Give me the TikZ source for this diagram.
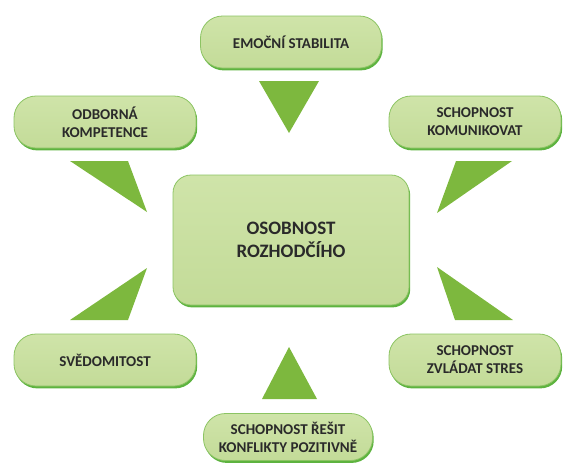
\documentclass[tikz,border=0pt]{standalone}
\usepackage{fontspec}
\setmainfont{Carlito}
\usepackage{xcolor}
\definecolor{BoxFill}{HTML}{C3DB98}
\definecolor{BoxLight}{HTML}{CFE4A9}
\definecolor{BoxLine}{HTML}{8CC463}
\definecolor{BoxShadow}{HTML}{5DB33F}
\definecolor{ArrowGreen}{HTML}{7DB83E}
\definecolor{TextGray}{HTML}{2A2A2A}
\usetikzlibrary{shadows, positioning}

\begin{document}
\begin{tikzpicture}[x=1pt, y=-1pt, align=center,
    trait/.style={draw=BoxLine, line width=0.8pt, rounded corners=22pt,
        top color=BoxLight, bottom color=BoxFill, text=TextGray,
        font=\fontsize{15}{18}\selectfont\bfseries,
        minimum height=52pt, inner sep=2pt,
        drop shadow={shadow xshift=1.2pt, shadow yshift=-2.4pt, fill=BoxShadow, opacity=1}},
    core/.style={trait, rounded corners=18pt, font=\fontsize{19}{23}\selectfont\bfseries},
    wedge/.style={fill=ArrowGreen, draw=none}]
    \useasboundingbox (0,0) rectangle (564,464);

    % Centre
    \node (osobnost) [core, minimum width=236pt, minimum height=130pt] at (291,240) {OSOBNOST\\ROZHODČÍHO};

    % Traits around
    \node (emoce) [trait, minimum width=181pt] at (291,42) {EMOČNÍ STABILITA};
    \node (odbornost) [trait, minimum width=182pt] at (105,122) {ODBORNÁ\\KOMPETENCE};
    \node (komunikace) [trait, minimum width=172pt] at (475,122) {SCHOPNOST\\KOMUNIKOVAT};
    \node (svedomitost) [trait, minimum width=182pt] at (105,360) {SVĚDOMITOST};
    \node (stres) [trait, minimum width=172pt] at (475,360) {SCHOPNOST\\ZVLÁDAT STRES};
    \node (konflikty) [trait, minimum width=169pt, minimum height=47pt] at (288,437) {SCHOPNOST ŘEŠIT\\KONFLIKTY POZITIVNĚ};

    % Wedges pointing to the centre
    \fill[wedge] (259,81) -- (319,81) -- (289,133) -- cycle;
    \fill[wedge] (70,161) -- (128,161) -- (147,212) -- cycle;
    \fill[wedge] (456,161) -- (512,161) -- (437,213) -- cycle;
    \fill[wedge] (147,268) -- (128,320) -- (70,320) -- cycle;
    \fill[wedge] (437,267) -- (513,320) -- (455,320) -- cycle;
    \fill[wedge] (289,347) -- (317,399) -- (262,399) -- cycle;
\end{tikzpicture}
\end{document}
